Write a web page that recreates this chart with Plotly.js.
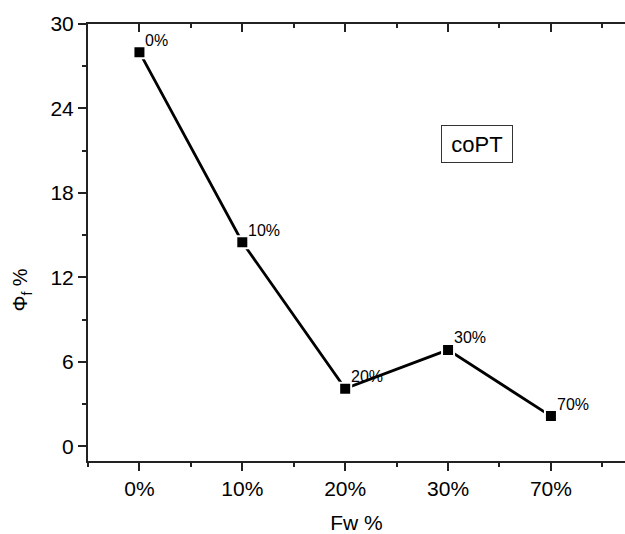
<!DOCTYPE html>
<html>
<head>
<meta charset="utf-8">
<script src="https://cdn.plot.ly/plotly-3.0.1.min.js"></script>
<style>html,body{margin:0;padding:0;background:#fff;}#chart{width:625px;height:534px;}</style>
</head>
<body>
<div id="chart"></div>
<script>
// Data
var categories = ['0%', '10%', '20%', '30%', '70%'];
var phiF = [28.0, 14.5, 4.1, 6.85, 2.15];
var pointLabels = ['0%', '10%', '20%', '30%', '70%'];
var yTicks = [0, 6, 12, 18, 24, 30];

var xIdx = categories.map(function (_, i) { return i; });
var axisColor = '#222';
var font = 'Arial, "Liberation Sans", sans-serif';

var trace = {
  x: xIdx, y: phiF, type: 'scatter', mode: 'lines+markers',
  line: {color: '#000', width: 2.8},
  marker: {symbol: 'square', size: 12, color: '#000', line: {color: '#fff', width: 2}},
  hoverinfo: 'none', showlegend: false
};
var topTrace = {x: [xIdx[0]], y: [phiF[0]], xaxis: 'x2', yaxis: 'y', mode: 'markers',
  marker: {opacity: 0}, hoverinfo: 'none', showlegend: false};

var annotations = pointLabels.map(function (t, i) {
  return {x: xIdx[i], y: phiF[i], xref: 'x', yref: 'y', text: t, showarrow: false,
    xanchor: 'left', yanchor: 'middle', xshift: 4, yshift: 12,
    font: {family: font, size: 16, color: '#000'}};
});
annotations.push({x: 3.28, y: 21.5, xref: 'x', yref: 'y', text: 'coPT', showarrow: false,
  xanchor: 'center', yanchor: 'middle', font: {family: font, size: 22, color: '#000'},
  bordercolor: '#333', borderwidth: 1, borderpad: 5, width: 60, height: 26, bgcolor: '#fff'});
annotations.push({x: 0, y: 0.39, xref: 'paper', yref: 'paper', xanchor: 'center', yanchor: 'middle',
  text: 'Φ<sub>f</sub> %', textangle: -90, showarrow: false, xshift: -66,
  font: {family: font, size: 20, color: '#000'}});

var layout = {
  width: 625, height: 534,
  margin: {l: 88, r: 0, t: 24, b: 73},
  paper_bgcolor: '#fff', plot_bgcolor: '#fff',
  font: {family: font, size: 21, color: '#000'},
  xaxis: {
    range: [-0.5, 4.72], tickvals: xIdx, ticktext: categories,
    showline: true, linecolor: axisColor, linewidth: 2,
    ticks: 'outside', ticklen: 8, tickwidth: 2, tickcolor: axisColor,
    minor: {dtick: 0.5, tick0: 0, ticks: 'outside', ticklen: 4, tickwidth: 2, tickcolor: axisColor},
    showgrid: false, zeroline: false, fixedrange: true,
    tickfont: {family: font, size: 21, color: '#000'},
    title: {text: 'Fw %', font: {family: font, size: 21, color: '#000'}, standoff: 16}
  },
  xaxis2: {
    overlaying: 'x', side: 'top', anchor: 'y', matches: 'x',
    range: [-0.5, 4.72], tickvals: xIdx, showticklabels: false,
    showline: true, linecolor: axisColor, linewidth: 2,
    ticks: 'inside', ticklen: 8, tickwidth: 2, tickcolor: axisColor,
    minor: {dtick: 0.5, tick0: 0, ticks: 'inside', ticklen: 4, tickwidth: 2, tickcolor: axisColor},
    showgrid: false, zeroline: false, fixedrange: true
  },
  yaxis: {
    range: [-1.04, 30], tickvals: yTicks,
    showline: true, linecolor: axisColor, linewidth: 2, mirror: false,
    ticks: 'outside', ticklen: 8, tickwidth: 2, tickcolor: axisColor,
    minor: {dtick: 3, tick0: 0, ticks: 'outside', ticklen: 4, tickwidth: 2, tickcolor: axisColor},
    showgrid: false, zeroline: false, fixedrange: true,
    tickfont: {family: font, size: 21, color: '#000'}
  },
  annotations: annotations
};

Plotly.newPlot('chart', [trace, topTrace], layout, {staticPlot: true, displayModeBar: false});
</script>
</body>
</html>
